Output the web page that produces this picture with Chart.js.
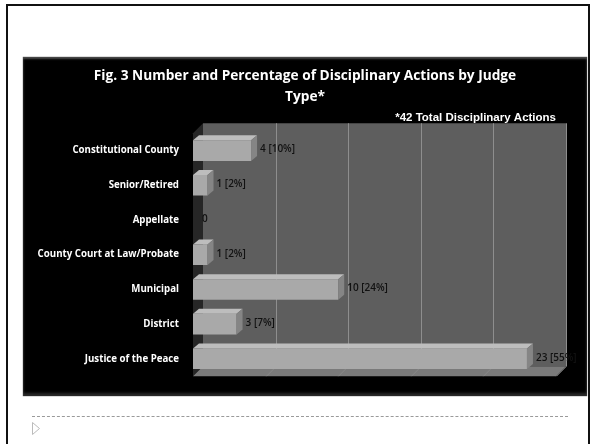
<!DOCTYPE html>
<html>
<head>
<meta charset="utf-8">
<script src="https://cdn.jsdelivr.net/npm/chart.js@4.4.1/dist/chart.umd.min.js"></script>
<style>
  html, body { margin: 0; padding: 0; background: #fff; }
  body { width: 592px; height: 444px; position: relative; overflow: hidden; }
  #frame { position: absolute; left: 6px; top: 4px; width: 580px; height: 460px; border: 2px solid #111; }
  #box { position: absolute; left: 23px; top: 57px; width: 564px; height: 339px; background: #000;
         box-shadow: inset 0 2px 2px #4a4a4a, inset 0 -3px 3px #2a2a2a, 0 0 1px #333; }
  #box canvas { position: absolute; left: 0; top: 0; }
  #rule { position: absolute; left: 32px; top: 416px; width: 536px; border-top: 1px dashed #9a9a9a; }
  #arrow { position: absolute; left: 32px; top: 422px; }
</style>
</head>
<body>
<div id="frame"></div>
<div id="box"><canvas id="myChart" width="564" height="339"></canvas></div>
<div id="rule"></div>
<svg id="arrow" width="10" height="14"><polygon points="0.5,0.5 7.5,6.5 0.5,12.5" fill="none" stroke="#bbb" stroke-width="1"/></svg>
<script>
// chart data
let categories = ["Constitutional County", "Senior/Retired", "Appellate", "County Court at Law/Probate", "Municipal", "District", "Justice of the Peace"];
let actions = [4, 1, 0, 1, 10, 3, 23];
let percents = [10, 2, null, 2, 24, 7, 55];
let xTicks = [0, 5, 10, 15, 20, 25];

// walls + bar depth, drawn from the scales and bar elements
const depth3d = {
  id: 'depth3d',
  afterLayout(chart) {
    // let long category labels run into the left padding instead of being clipped
    chart.scales.y.left = 0;
  },
  beforeDatasetsDraw(chart) {
    const { ctx, chartArea: a, scales } = chart;
    const dx = 10, dy = 10;
    ctx.save();
    // back wall
    ctx.fillStyle = '#5e5e5e';
    ctx.fillRect(a.left + dx, a.top - dy, a.right - a.left, a.bottom - a.top);
    // left wall
    ctx.fillStyle = '#262626';
    ctx.beginPath();
    ctx.moveTo(a.left, a.top); ctx.lineTo(a.left + dx, a.top - dy);
    ctx.lineTo(a.left + dx, a.bottom - dy); ctx.lineTo(a.left, a.bottom);
    ctx.closePath(); ctx.fill();
    // floor
    ctx.fillStyle = '#7a7a7a';
    ctx.beginPath();
    ctx.moveTo(a.left, a.bottom); ctx.lineTo(a.left + dx, a.bottom - dy);
    ctx.lineTo(a.right + dx, a.bottom - dy); ctx.lineTo(a.right, a.bottom);
    ctx.closePath(); ctx.fill();
    // grid lines
    ctx.lineWidth = 1;
    xTicks.forEach(v => {
      if (v === 0) return;
      const x = Math.round(scales.x.getPixelForValue(v)) + 0.5;
      ctx.strokeStyle = '#8e8e8e';
      ctx.beginPath();
      ctx.moveTo(x + dx, a.top - dy); ctx.lineTo(x + dx, a.bottom - dy);
      ctx.stroke();
      ctx.strokeStyle = '#888';
      ctx.beginPath();
      ctx.moveTo(x, a.bottom); ctx.lineTo(x + dx, a.bottom - dy);
      ctx.stroke();
    });
    ctx.restore();
  },
  afterDatasetsDraw(chart) {
    const { ctx } = chart;
    const bdx = 6, bdy = 5;
    const meta = chart.getDatasetMeta(0);
    ctx.save();
    meta.data.forEach((bar, i) => {
      const p = bar.getProps(['x', 'y', 'base', 'height'], true);
      const t = p.y - p.height / 2, b = p.y + p.height / 2;
      if (actions[i] > 0) {
        ctx.fillStyle = '#bdbdbd';
        ctx.beginPath();
        ctx.moveTo(p.base, t); ctx.lineTo(p.base + bdx, t - bdy);
        ctx.lineTo(p.x + bdx, t - bdy); ctx.lineTo(p.x, t);
        ctx.closePath(); ctx.fill();
        ctx.fillStyle = '#858585';
        ctx.beginPath();
        ctx.moveTo(p.x, t); ctx.lineTo(p.x + bdx, t - bdy);
        ctx.lineTo(p.x + bdx, b - bdy); ctx.lineTo(p.x, b);
        ctx.closePath(); ctx.fill();
      }
      const txt = percents[i] === null ? String(actions[i]) : actions[i] + ' [' + percents[i] + '%]';
      ctx.fillStyle = '#111';
      ctx.font = '600 10px "Open Sans"';
      ctx.textBaseline = 'middle';
      ctx.textAlign = 'left';
      ctx.fillText(txt, p.x + bdx + 3, p.y - 1);
    });
    ctx.restore();
  }
};

let ctx = document.getElementById('myChart').getContext('2d');
let myChart = new Chart(ctx, {
  type: 'bar',
  data: {
    labels: categories,
    datasets: [{
      data: actions,
      backgroundColor: '#a9a9a9',
      borderWidth: 0,
      barPercentage: 0.78,
      categoryPercentage: 0.76
    }]
  },
  options: {
    indexAxis: 'y',
    responsive: false,
    animation: false,
    devicePixelRatio: 1,
    layout: { padding: { left: 31, right: 31, top: 0, bottom: 14 } },
    plugins: {
      legend: { display: false },
      tooltip: { enabled: false },
      title: {
        display: true,
        text: ['Fig. 3 Number and Percentage of Disciplinary Actions by Judge', 'Type*'],
        color: '#fff',
        font: { family: 'Open Sans', size: 13.7, weight: 'bold', lineHeight: 1.55 },
        padding: { top: 8, bottom: 3 }
      },
      subtitle: {
        display: true,
        text: '*42 Total Disciplinary Actions',
        align: 'end',
        color: '#fff',
        font: { family: 'Liberation Sans', size: 11.5, weight: 'bold' },
        padding: { top: 0, bottom: 9 }
      }
    },
    scales: {
      x: {
        min: 0, max: 25,
        afterBuildTicks: s => { s.ticks = xTicks.map(v => ({ value: v })); },
        ticks: { display: false },
        grid: { display: false, drawTicks: false },
        border: { display: false }
      },
      y: {
        afterFit: s => { s.width = 139; },
        grid: { display: false, drawTicks: false },
        border: { display: false },
        ticks: { color: '#fff', padding: 14, font: { family: 'Open Sans', size: 9.7, weight: 'bold' } }
      }
    }
  },
  plugins: [depth3d]
});
</script>
</body>
</html>
